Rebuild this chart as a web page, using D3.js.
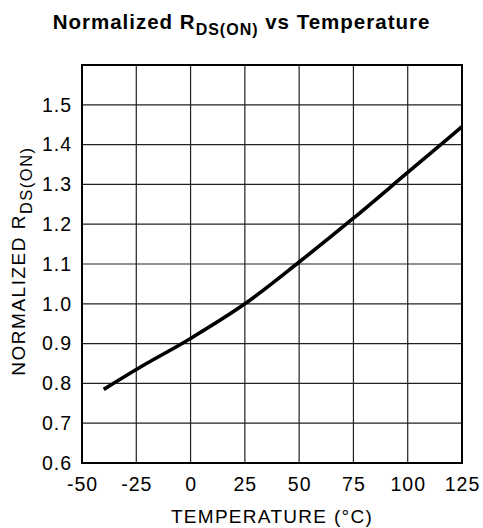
<!DOCTYPE html>
<html>
<head>
<meta charset="utf-8">
<script src="https://cdn.jsdelivr.net/npm/d3@7"></script>
<style>
body { margin: 0; background: #fff; }
text { font-family: "Liberation Sans", Arial, Helvetica, sans-serif; fill: #000; }
</style>
</head>
<body>
<div id="chart"></div>
<script>
var temps = [-40, -25, 0, 25, 50, 75, 100, 125];
var rdson = [0.785, 0.835, 0.913, 1.0, 1.105, 1.215, 1.33, 1.445];
var xTicks = [-50, -25, 0, 25, 50, 75, 100, 125];
var yTicks = [0.6, 0.7, 0.8, 0.9, 1.0, 1.1, 1.2, 1.3, 1.4, 1.5];

var W = 483, H = 528;
var m = {top: 65, right: 21, bottom: 65, left: 82};
var w = W - m.left - m.right, h = H - m.top - m.bottom;

var svg = d3.select('#chart').append('svg')
            .attr('width', W)
            .attr('height', H);

var x = d3.scaleLinear().domain([-50, 125]).range([0, w]);
var y = d3.scaleLinear().domain([0.6, 1.6]).range([h, 0]);

var g = svg.append('g').attr('transform', 'translate(' + m.left + ',' + m.top + ')');

// grid lines
g.selectAll('.vgrid')
 .data(xTicks.slice(1, -1))
 .enter()
 .append('line')
 .attr('x1', function(d){return x(d);})
 .attr('x2', function(d){return x(d);})
 .attr('y1', 0)
 .attr('y2', h)
 .style('stroke', '#222')
 .style('stroke-width', 1.2);

g.selectAll('.hgrid')
 .data(yTicks.slice(1))
 .enter()
 .append('line')
 .attr('x1', 0)
 .attr('x2', w)
 .attr('y1', function(d){return y(d);})
 .attr('y2', function(d){return y(d);})
 .style('stroke', '#222')
 .style('stroke-width', 1.2);

// frame
g.append('rect')
 .attr('width', w)
 .attr('height', h)
 .style('fill', 'none')
 .style('stroke', '#000')
 .style('stroke-width', 2);

// tick labels
var xAxis = g.append('g')
             .attr('transform', 'translate(0,' + h + ')')
             .call(d3.axisBottom(x).tickValues(xTicks).tickSize(0).tickPadding(14)
                   .tickFormat(function(d){return String(d);}));
var yAxis = g.append('g')
             .call(d3.axisLeft(y).tickValues(yTicks).tickSize(0).tickPadding(10)
                   .tickFormat(function(d){return d.toFixed(1);}));
[xAxis, yAxis].forEach(function(a) {
   a.select('.domain').remove();
   a.selectAll('text')
    .style('font-family', '"Liberation Sans", Arial, sans-serif')
    .style('font-size', '19.5px')
    .style('letter-spacing', '1px')
    .style('fill', '#000');
});

// curve
var line = d3.line()
             .x(function(d){return x(d[0]);})
             .y(function(d){return y(d[1]);})
             .curve(d3.curveMonotoneX);

g.append('path')
 .datum(d3.zip(temps, rdson))
 .attr('d', line)
 .style('fill', 'none')
 .style('stroke', '#000')
 .style('stroke-width', 3.6);

// title
var title = svg.append('text')
               .attr('x', W / 2)
               .attr('y', 29)
               .attr('text-anchor', 'middle')
               .style('font-size', '20.5px')
               .style('font-weight', 'bold')
               .style('letter-spacing', '1px');
title.append('tspan').text('Normalized R');
title.append('tspan').attr('dy', 6).style('font-size', '16px').text('DS(ON)');
title.append('tspan').attr('dy', -6).text(' vs Temperature');

// x label
svg.append('text')
   .attr('x', m.left + w / 2)
   .attr('y', 523)
   .attr('text-anchor', 'middle')
   .style('font-size', '19px')
   .style('letter-spacing', '1.3px')
   .text('TEMPERATURE (°C)');

// y label
var yl = svg.append('text')
            .attr('transform', 'translate(25,261) rotate(-90)')
            .attr('text-anchor', 'middle')
            .style('font-size', '19px')
            .style('letter-spacing', '1.5px');
yl.append('tspan').text('NORMALIZED R');
yl.append('tspan').attr('dy', 7).style('font-size', '16.5px').text('DS(ON)');
</script>
</body>
</html>
